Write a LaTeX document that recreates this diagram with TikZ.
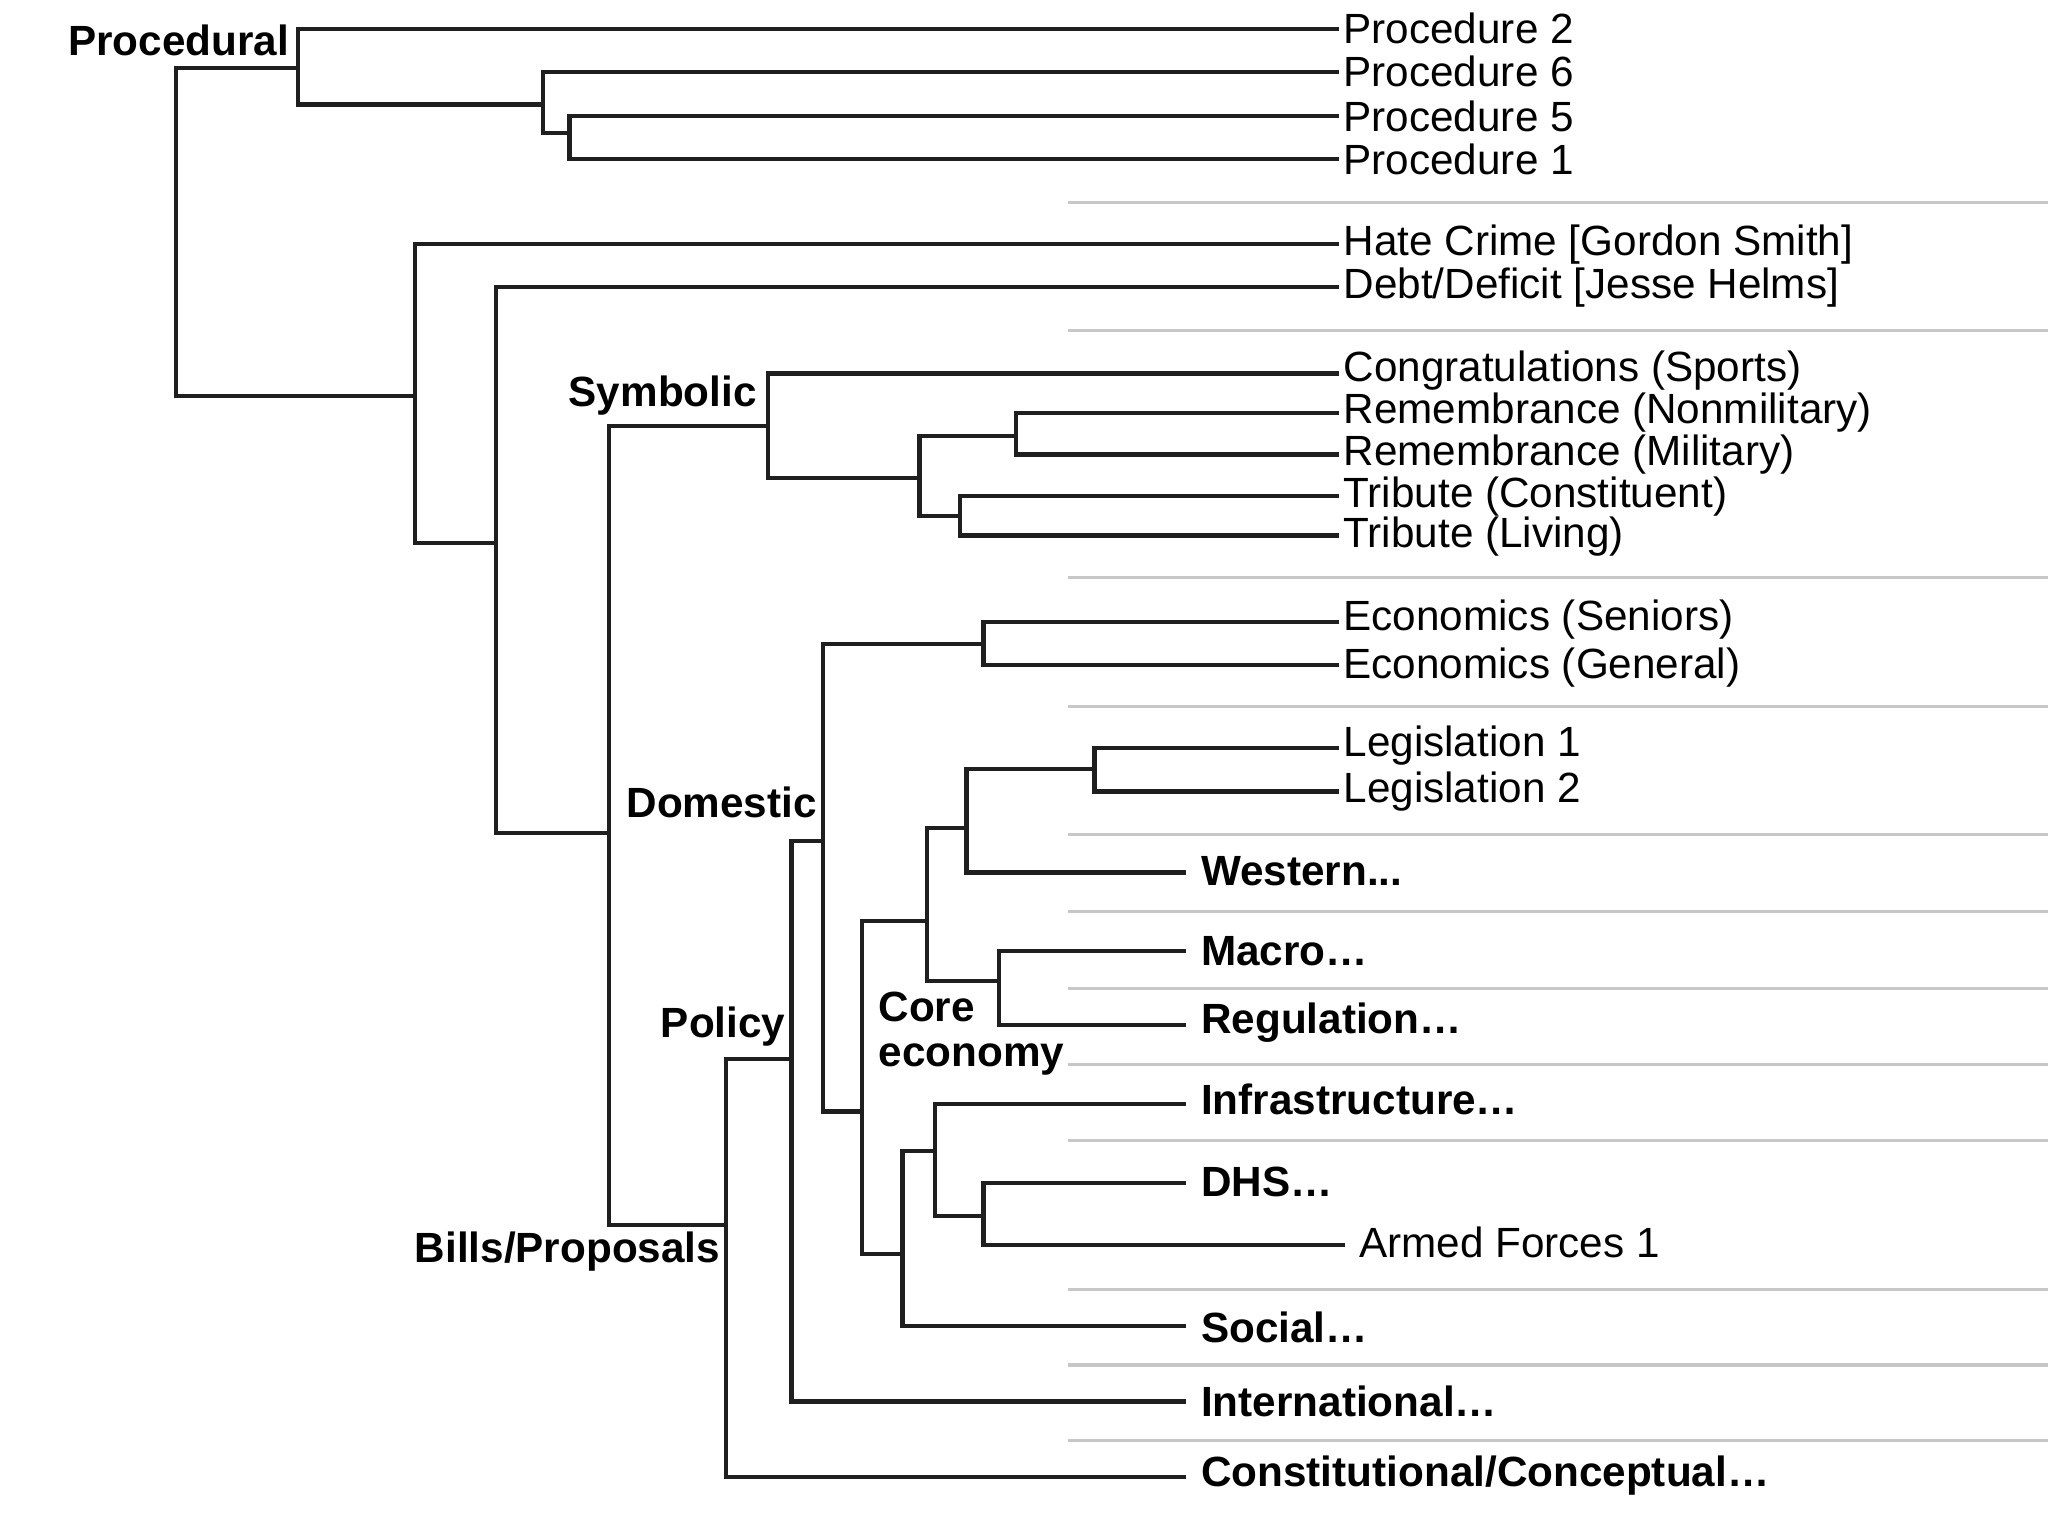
\documentclass[tikz,border=0pt]{standalone}
\usepackage{fontspec}
\setmainfont{Liberation Sans}
\begin{document}
\begin{tikzpicture}[x=0.01cm,y=-0.01cm,
  br/.style={line width=0.9pt,draw=black!88},
  sep/.style={line width=0.7pt,draw=black!22},
  lf/.style={anchor=west,inner sep=0pt,font=\fontsize{9.2}{10}\selectfont},
  bl/.style={anchor=west,inner sep=0pt,font=\fontsize{9.2}{10}\selectfont\bfseries},
  il/.style={anchor=east,inner sep=0pt,font=\fontsize{9.2}{10}\selectfont\bfseries}]
\useasboundingbox (0,0) rectangle (1568,1176);
\newcommand\brk[3]{\draw[br] (#2) -| (#1 |- #3) -- (#3);}
% gray separators
\foreach \y in {155,253,442,541,639,698,757,815,873,987,1045,1103}
  \draw[sep] (818,\y) -- (1568,\y);
% internal coordinates
\coordinate (R) at (135,303);
\coordinate (Proc) at (228,52);
\coordinate (A) at (416,80);
\coordinate (B) at (436,102);
\coordinate (C) at (318,303);
\coordinate (D) at (380,416);
\coordinate (E) at (466,638);
\coordinate (Sym) at (588,326);
\coordinate (F) at (704,366);
\coordinate (G) at (778,334);
\coordinate (H) at (735,395);
\coordinate (Bills) at (556,938);
\coordinate (Pol) at (606,811);
\coordinate (Dom) at (630,644);
\coordinate (I) at (753,493);
\coordinate (Core) at (660,851);
\coordinate (J) at (710,705);
\coordinate (K) at (691,960);
\coordinate (L) at (740,634);
\coordinate (N) at (838,589);
\coordinate (M) at (765,751);
\coordinate (O) at (716,881);
\coordinate (P) at (753,931);
% leaf ends
\foreach \n/\y in {P2/22,P6/55,P5/89,P1/122,Hate/187,Debt/220,Cong/286,RemN/316,RemM/348,TC/380,TL/410,ES/476,EG/509,Leg1/573,Leg2/606}
  \coordinate (\n) at (1025,\y);
\foreach \n/\y in {West/668,Macro/728,Reg/785,Infra/845,DHS/906,Soc/1015,Intl/1073,Const/1131}
  \coordinate (\n) at (908,\y);
\coordinate (Arm) at (1030,953);
% leaf labels
\node[lf] (tP2) at (1028,22) {Procedure 2};
\node[lf] (tP6) at (1028,55) {Procedure 6};
\node[lf] (tP5) at (1028,89) {Procedure 5};
\node[lf] (tP1) at (1028,122) {Procedure 1};
\node[lf] (tHate) at (1028,187) {Hate Crime [Gordon Smith]};
\node[lf] (tDebt) at (1028,220) {Debt/Deficit [Jesse Helms]};
\node[lf] (tCong) at (1028,284) {Congratulations (Sports)};
\node[lf] (tRemN) at (1028,316) {Remembrance (Nonmilitary)};
\node[lf] (tRemM) at (1028,348) {Remembrance (Military)};
\node[lf] (tTC) at (1028,380) {Tribute (Constituent)};
\node[lf] (tTL) at (1028,411) {Tribute (Living)};
\node[lf] (tES) at (1028,474) {Economics (Seniors)};
\node[lf] (tEG) at (1028,511) {Economics (General)};
\node[lf] (tL1) at (1028,571) {Legislation 1};
\node[lf] (tL2) at (1028,606) {Legislation 2};
\node[lf] (tArm) at (1040,951) {Armed Forces 1};
\node[bl] (tW) at (919,667) {Western...};
\node[bl] (tMa) at (919,728) {Macro\ldots};
\node[bl] (tRe) at (919,783) {Regulation\ldots};
\node[bl] (tIn) at (919,842) {Infrastructure\ldots};
\node[bl] (tDH) at (919,905) {DHS\ldots};
\node[bl] (tSo) at (919,1016) {Social\ldots};
\node[bl] (tIt) at (919,1073) {International\ldots};
\node[bl] (tCo) at (919,1130) {Constitutional/Conceptual\ldots};
% internal labels
\node[il] (lProc) at (222,31) {Procedural};
\node[il] (lSym) at (580,303) {Symbolic};
\node[il] (lDom) at (626,614) {Domestic};
\node[il] (lPol) at (602,786) {Policy};
\node[il] (lBills) at (552,958) {Bills/Proposals};
\node[bl] (lCore) at (672,771) {Core};
\node[bl] (lEco) at (672,811) {economy};
% branches
\brk{R}{Proc}{C}
\brk{Proc}{P2}{A}
\brk{A}{P6}{B}
\brk{B}{P5}{P1}
\brk{C}{Hate}{D}
\brk{D}{Debt}{E}
\brk{E}{Sym}{Bills}
\brk{Sym}{Cong}{F}
\brk{F}{G}{H}
\brk{G}{RemN}{RemM}
\brk{H}{TC}{TL}
\brk{Bills}{Pol}{Const}
\brk{Pol}{Dom}{Intl}
\brk{Dom}{I}{Core}
\brk{I}{ES}{EG}
\brk{Core}{J}{K}
\brk{J}{L}{M}
\brk{L}{N}{West}
\brk{N}{Leg1}{Leg2}
\brk{M}{Macro}{Reg}
\brk{K}{O}{Soc}
\brk{O}{Infra}{P}
\brk{P}{DHS}{Arm}
\end{tikzpicture}
\end{document}
